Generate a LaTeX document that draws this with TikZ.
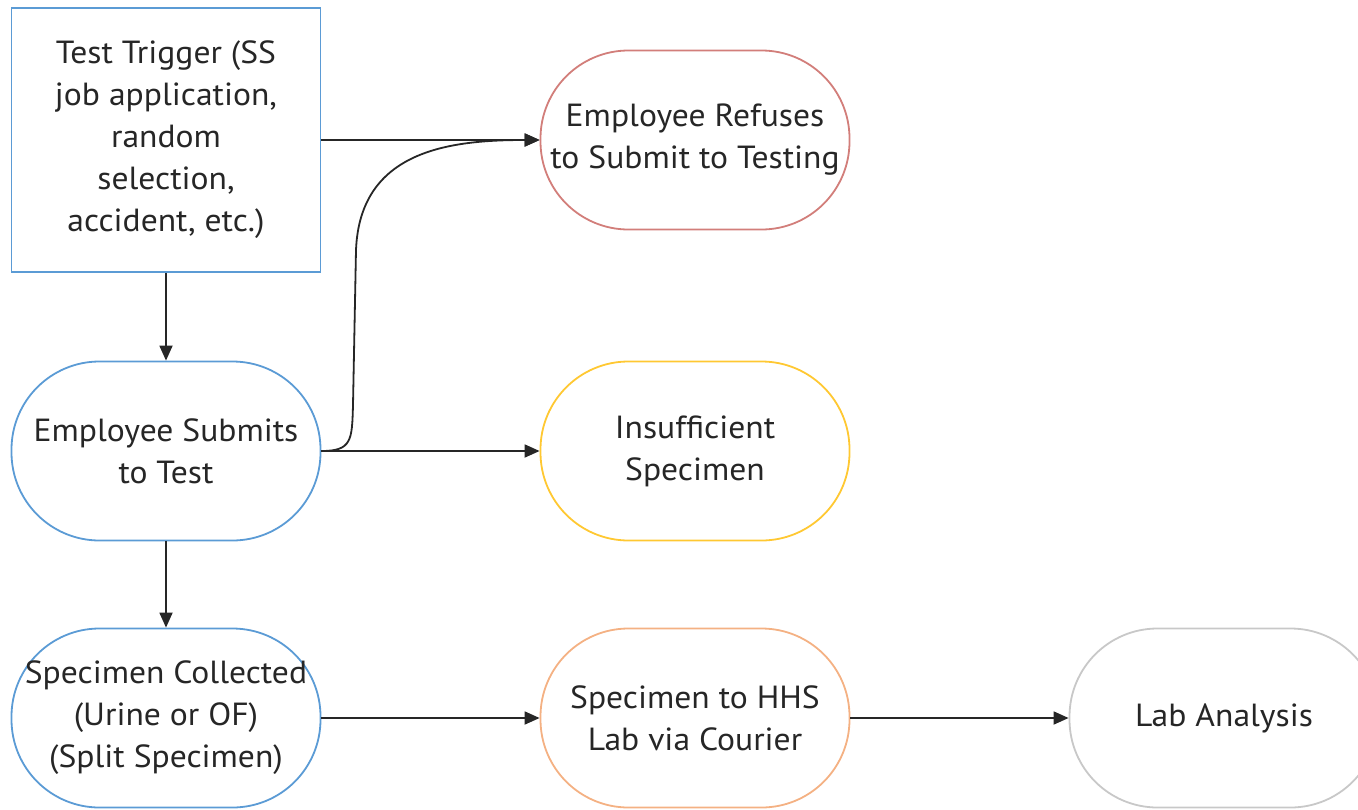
\documentclass[tikz,border=0pt]{standalone}
\usepackage{fontspec}
\setmainfont[FakeStretch=1.05]{PT Sans}
\usetikzlibrary{arrows.meta}
\definecolor{cblue}{HTML}{5B9BD5}
\definecolor{cred}{HTML}{D27E7A}
\definecolor{cyel}{HTML}{FFC832}
\definecolor{corg}{HTML}{F4B183}
\definecolor{cgry}{HTML}{C8C8C8}
\tikzset{
  txt/.style={font=\fontsize{32}{42}\selectfont, text=black!85, align=center, inner sep=0pt},
  sbox/.style={txt, draw=cblue, line width=1.8pt, minimum width=309pt, minimum height=264pt},
  pill/.style={txt, line width=1.8pt, minimum width=309pt, minimum height=179pt, rounded corners=88pt},
  conn/.style={line width=1.8pt, black!85, -{Triangle[length=15pt,width=13pt]}}
}
\begin{document}
\begin{tikzpicture}[x=1pt,y=-1pt]
\useasboundingbox (0,0) rectangle (1358,809);
\begin{scope}
\clip (0,0) rectangle (1358,809);
\node[sbox] (trig) at (166,140) {Test Trigger (SS\\job application,\\random\\selection,\\accident, etc.)};
\node[pill, draw=cblue] (sub) at (166,451) {Employee Submits\\to Test};
\node[pill, draw=cblue] (col) at (166,718) {Specimen Collected\\(Urine or OF)\\(Split Specimen)};
\node[pill, draw=cred] (ref) at (695,140) {Employee Refuses\\to Submit to Testing};
\node[pill, draw=cyel] (ins) at (695,451) {Insufficient\\Specimen};
\node[pill, draw=corg] (hhs) at (695,718) {Specimen to HHS\\Lab via Courier};
\node[pill, draw=cgry] (lab) at (1224,718) {Lab Analysis};
\end{scope}
\draw[conn] (trig.east) -- (ref.west);
\draw[conn] (trig.south) -- (sub.north);
\draw[conn] (sub.east) -- (ins.west);
\draw[conn] (sub.east) .. controls (352,451) and (352,440) .. (353,405)
  -- (356,250) .. controls (360,150) and (450,140) .. (ref.west);
\draw[conn] (sub.south) -- (col.north);
\draw[conn] (col.east) -- (hhs.west);
\draw[conn] (hhs.east) -- (lab.west);
\end{tikzpicture}
\end{document}
